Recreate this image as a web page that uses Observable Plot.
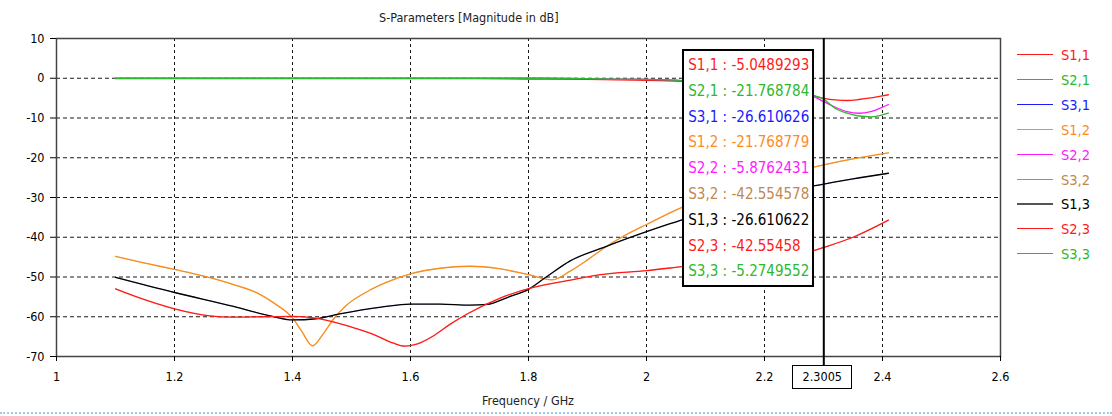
<!DOCTYPE html>
<html><head><meta charset="utf-8">
<script src="https://cdn.jsdelivr.net/npm/d3@7"></script>
<script src="https://cdn.jsdelivr.net/npm/@observablehq/plot@0.6"></script>
<style>
body{margin:0;background:#fff;font-family:"DejaVu Sans Condensed","DejaVu Sans",sans-serif;font-stretch:condensed;}
#wrap{position:relative;width:1112px;height:416px;overflow:hidden;background:#fff;}
.ov{position:absolute;white-space:nowrap;}
</style></head><body><div id="wrap"></div>
<script>
// ---- data ----
const names = ["S1,1","S2,1","S3,1","S1,2","S2,2","S3,2","S1,3","S2,3","S3,3"];
const colors = ["#ff1a1a","#2db82d","#1a1aff","#ff8a1e","#ff1aff","#c08850","#000000","#ff1a1a","#2db82d"];
const legendLineColors = ["#ff1a1a","#2db82d","#1a1aff","#ff8a1e","#ff1aff","#c08850","#555555","#ff1a1a","#2db82d"];
const readout = ["-5.0489293","-21.768784","-26.610626","-21.768779","-5.8762431","-42.554578","-26.610622","-42.55458","-5.2749552"];
const markerFreq = 2.3005;

const fTop = [1.1,1.2,1.3,1.4,1.5,1.6,1.7,1.8,1.9,1.95,2.0,2.06,2.12,2.18,2.24,2.28,2.3005,2.32,2.34,2.36,2.38,2.395,2.41];
const s11  = [-0.1,-0.1,-0.1,-0.1,-0.1,-0.1,-0.1,-0.2,-0.3,-0.4,-0.5,-0.8,-1.5,-2.4,-3.5,-4.3,-5.05,-5.45,-5.6,-5.35,-4.95,-4.55,-4.15];
const s22  = [0,0,0,0,0,0,0,0,-0.1,-0.2,-0.3,-0.6,-1.3,-2.2,-3.4,-4.4,-5.88,-7.3,-8.4,-8.8,-8.4,-7.6,-6.6];
const s33  = [0,0,0,0,0,0,0,0,-0.1,-0.2,-0.3,-0.6,-1.3,-2.2,-3.3,-4.2,-5.27,-7.6,-8.8,-9.5,-9.7,-9.4,-8.8];

const f12 = [1.1,1.15,1.2,1.25,1.3,1.34,1.37,1.4,1.415,1.434,1.452,1.47,1.49,1.53,1.56,1.6,1.65,1.7,1.75,1.8,1.84,1.87,1.9,1.93,1.96,2.0,2.06,2.12,2.18,2.24,2.3005,2.35,2.41];
const s12 = [-44.8,-46.5,-48.1,-49.8,-51.9,-54.0,-56.7,-60.3,-63.5,-67.3,-64.3,-60.5,-57.3,-53.4,-51.3,-49.2,-47.8,-47.3,-47.9,-49.4,-50.7,-48.6,-45.7,-42.5,-39.8,-36.8,-32.5,-29.0,-26.2,-23.9,-21.77,-20.3,-18.8];

const f13 = [1.1,1.2,1.3,1.36,1.4,1.44,1.48,1.55,1.6,1.65,1.7,1.73,1.765,1.8,1.83,1.87,1.93,2.0,2.06,2.12,2.18,2.24,2.3005,2.35,2.41];
const s13 = [-50.1,-53.9,-57.4,-59.7,-60.8,-60.5,-59.3,-57.6,-56.8,-56.8,-57.1,-56.9,-55.1,-53.1,-50.0,-46.0,-42.4,-38.6,-35.6,-32.6,-30.0,-28.2,-26.61,-25.3,-23.9];

const f23 = [1.1,1.13,1.2,1.256,1.3,1.35,1.4,1.442,1.5,1.54,1.57,1.59,1.612,1.64,1.668,1.696,1.752,1.808,1.866,1.922,2.0,2.06,2.12,2.18,2.24,2.278,2.3005,2.35,2.41];
const s23 = [-53.0,-54.7,-58.0,-59.7,-60.1,-60.0,-59.9,-60.4,-62.6,-64.6,-66.6,-67.4,-66.8,-64.7,-61.8,-59.3,-55.3,-52.6,-50.9,-49.4,-48.4,-47.4,-46.4,-45.3,-44.2,-43.6,-42.55,-40.0,-35.7];

const xTicks = [1,1.2,1.4,1.6,1.8,2,2.2,2.4,2.6];
const xGrid = [1.2,1.4,1.6,1.8,2,2.2,2.4];
const yTicks = [10,0,-10,-20,-30,-40,-50,-60,-70];
const yGrid = [0,-10,-20,-30,-40,-50,-60];

const seriesFreq = [fTop,f12,f13,f12,fTop,f23,f13,f23,fTop];
const seriesVals = [s11,s12,s13,s12,s22,s23,s13,s23,s33];
// series that lie exactly under a later identical series (drawn thin, hidden)
const hidden = [false,true,true,false,false,true,false,false,false];

// ---- chart ----
const lineMarks = names.map((n,i) => Plot.line(
  seriesFreq[i].map((f,j)=>({f, db: seriesVals[i][j]})),
  {x:"f", y:"db", stroke: colors[i], strokeWidth: hidden[i] ? 0.4 : 1.3, curve:"monotone-x"}));

const plot = Plot.plot({
  width:1112, height:416,
  marginLeft:56, marginRight:112, marginTop:38, marginBottom:60,
  style:{fontFamily:'"DejaVu Sans Condensed","DejaVu Sans",sans-serif', fontSize:"12.5px", color:"#000", background:"#fff"},
  x:{domain:[1,2.6]},
  y:{domain:[-70,10]},
  marks:[
    Plot.gridX(xGrid,{stroke:"#000", strokeOpacity:0.9, strokeDasharray:"3,3"}),
    Plot.gridY(yGrid,{stroke:"#000", strokeOpacity:0.9, strokeDasharray:"4,3"}),
    ...lineMarks,
    Plot.frame({stroke:"#444", strokeWidth:1.5}),
    Plot.ruleX([markerFreq],{stroke:"#000", strokeWidth:2, insetBottom:-9}),
    Plot.axisY(yTicks,{tickSize:6, tickPadding:6, label:null, tickFormat:d=>String(d)}),
    Plot.axisX(xTicks,{tickSize:5, tickPadding:11, label:null, tickFormat:d=>String(d)})
  ]
});
const wrap = document.getElementById("wrap");
wrap.appendChild(plot);
const xs = plot.scale("x");
const xm = xs.apply(markerFreq);

function ov(html, css){ const d=document.createElement("div"); d.className="ov"; d.innerHTML=html; Object.assign(d.style,css); wrap.appendChild(d); return d; }

// title
ov("S-Parameters [Magnitude in dB]",{left:"379px",top:"10px",fontSize:"12.5px",color:"#222"});
// x axis title
ov("Frequency / GHz",{left:"0px",width:(xs.apply(1)+xs.apply(2.6))+"px",textAlign:"center",top:"393px",fontSize:"12.5px",color:"#222"});
// bottom dotted line
ov("",{left:"0px",top:"412px",width:"1112px",height:"0px",borderTop:"2px dotted #9cc8ee"});
// marker frequency box
ov(String(markerFreq),{left:(xm-31)+"px",top:"365px",width:"58px",height:"22px",border:"1px solid #000",background:"#fff",textAlign:"center",lineHeight:"22px",fontSize:"12.5px"});
// readout box
ov(names.map((n,i)=>`<div style="color:${colors[i]};height:25.8px;line-height:25.8px">${n} : ${readout[i]}</div>`).join(""),
  {left:(xm-141)+"px",top:"49px",width:"124px",height:"232px",border:"2px solid #000",background:"#fff",padding:"2px 0 0 4px",fontSize:"15px"});
// legend
names.forEach((n,i)=>{
  const y = 55 + 24.9*i;
  ov("",{left:"1017px",top:(y-1)+"px",width:"36px",height:"0px",borderTop:`${i===6?2:1.5}px solid ${legendLineColors[i]}`});
  ov(n,{left:"1061px",top:(y-9)+"px",fontSize:"14.5px",color:colors[i],lineHeight:"18px"});
});
</script></body></html>
